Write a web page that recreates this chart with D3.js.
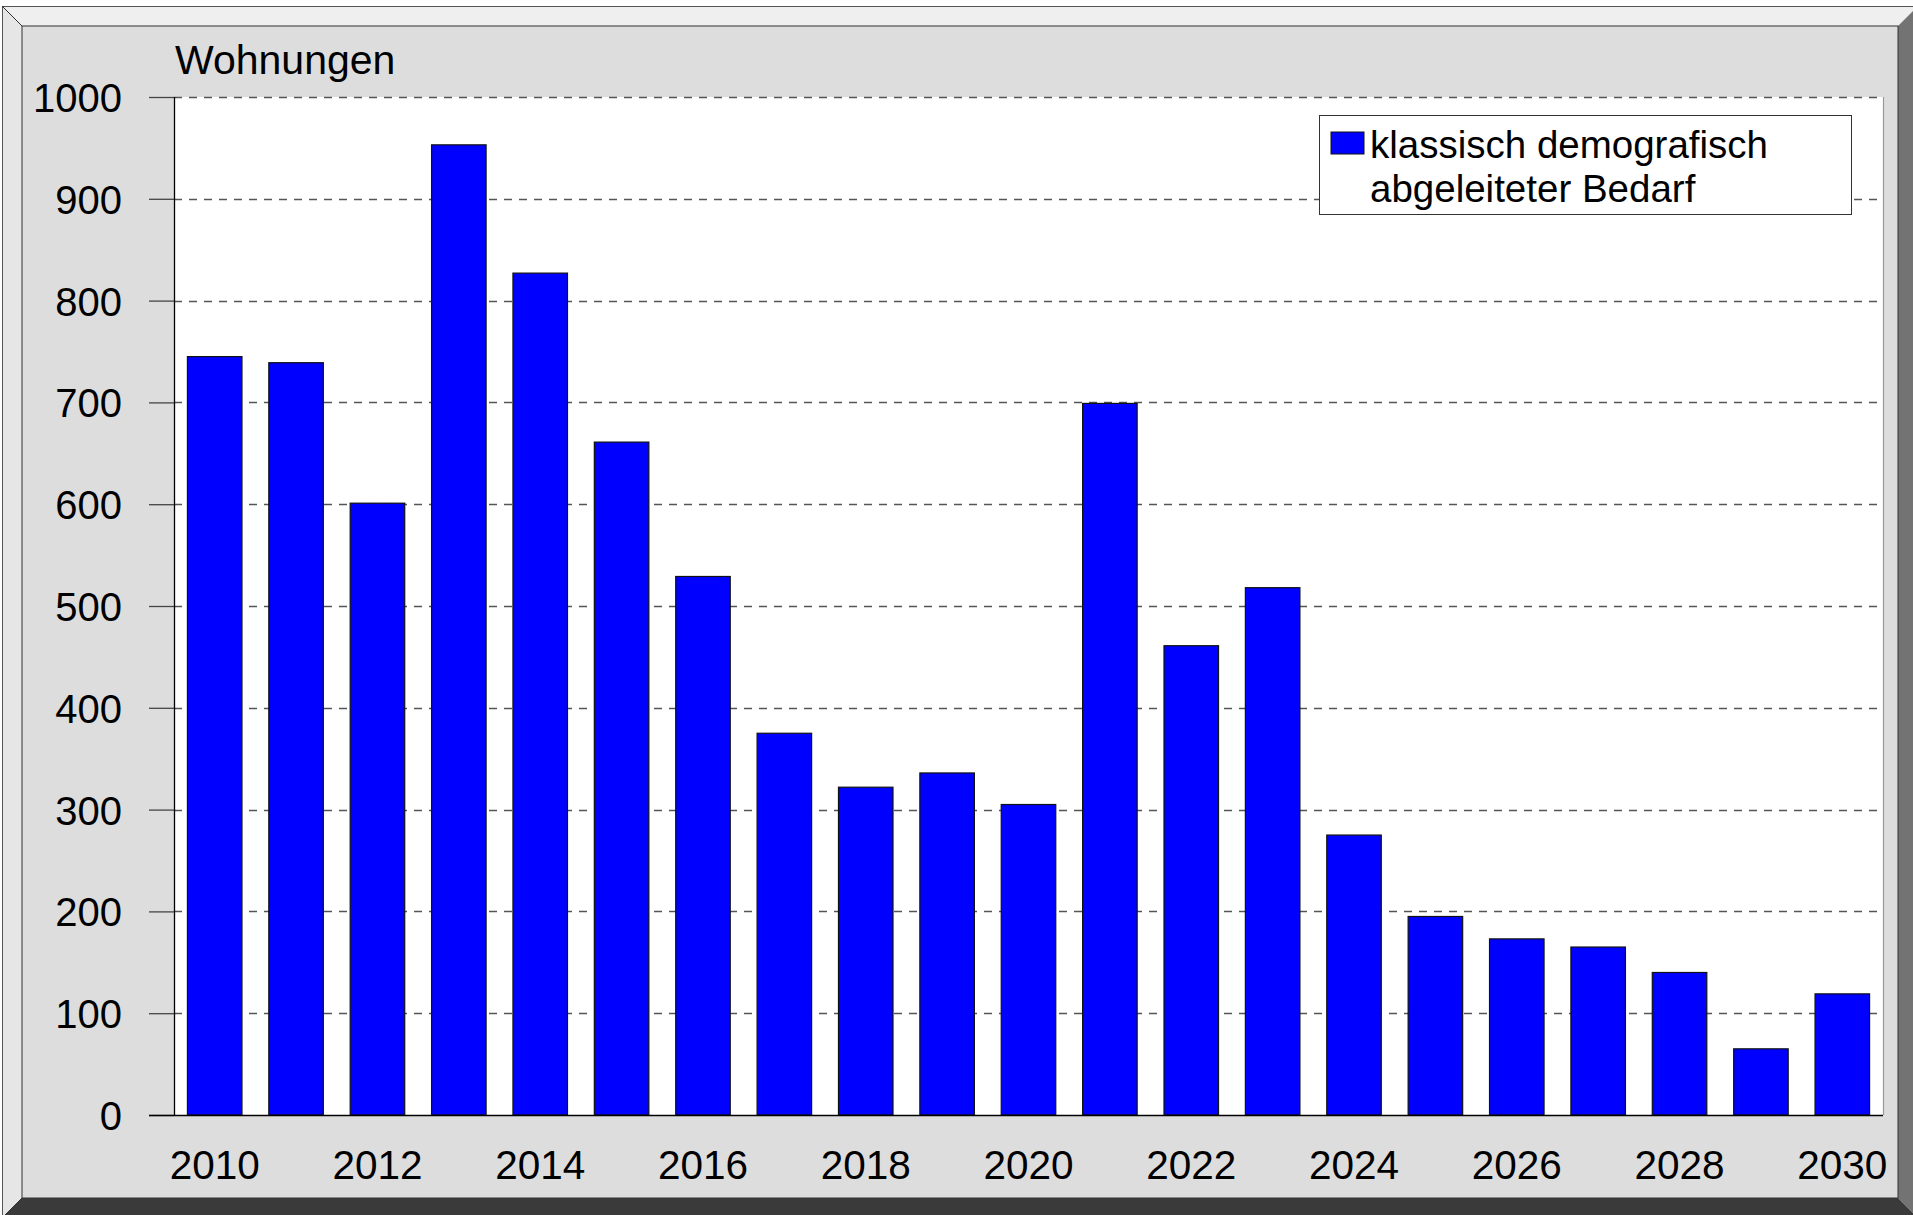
<!DOCTYPE html>
<html>
<head>
<meta charset="utf-8">
<script src="https://cdn.jsdelivr.net/npm/d3@7"></script>
<style>
html,body{margin:0;padding:0;background:#fff;}
svg{display:block;}
text{font-family:"Liberation Sans",Arial,Helvetica,sans-serif;fill:#000;}
</style>
</head>
<body>
<script>
// ---- data ----
const years = [2010,2011,2012,2013,2014,2015,2016,2017,2018,2019,2020,2021,2022,2023,2024,2025,2026,2027,2028,2029,2030];
const values = [745,739,601,953,827,661,529,375,322,336,305,699,461,518,275,195,173,165,140,65,119];
const yTicks = [0,100,200,300,400,500,600,700,800,900,1000];
const xTickLabels = [2010,2012,2014,2016,2018,2020,2022,2024,2026,2028,2030];
const seriesName = ["klassisch demografisch", "abgeleiteter Bedarf"];
const yTitle = "Wohnungen";

// ---- layout ----
const W = 1913, H = 1215;
const FONT = 40;
const plot = {left:174, right:1883, top:97, bottom:1115};

const svg = d3.select("body").append("svg").attr("width", W).attr("height", H);

// frame with bevel
const o = {x0:2, y0:6, x1:1918, y1:1218};
const b = 20;
const i = {x0:o.x0+b, y0:o.y0+b, x1:o.x1-b, y1:o.y1-b};
const poly = pts => pts.map(p => p.join(",")).join(" ");
svg.append("polygon").attr("points", poly([[o.x0,o.y0],[o.x1,o.y0],[i.x1,i.y0],[i.x0,i.y0]])).attr("fill","#efefef");
svg.append("polygon").attr("points", poly([[o.x0,o.y0],[i.x0,i.y0],[i.x0,i.y1],[o.x0,o.y1]])).attr("fill","#e6e6e6");
svg.append("polygon").attr("points", poly([[o.x1,o.y0],[o.x1,o.y1],[i.x1,i.y1],[i.x1,i.y0]])).attr("fill","#737373");
svg.append("polygon").attr("points", poly([[o.x0,o.y1],[i.x0,i.y1],[i.x1,i.y1],[o.x1,o.y1]])).attr("fill","#3a3a3a");
svg.append("rect").attr("x",o.x0+0.5).attr("y",o.y0+0.5).attr("width",o.x1-o.x0).attr("height",o.y1-o.y0)
  .attr("fill","none").attr("stroke","#555").attr("stroke-width",1);
svg.append("line").attr("x1",o.x0).attr("y1",o.y0).attr("x2",i.x0).attr("y2",i.y0).attr("stroke","#333");
svg.append("line").attr("x1",o.x0).attr("y1",o.y1).attr("x2",i.x0).attr("y2",i.y1).attr("stroke","#333");
svg.append("rect").attr("x",i.x0).attr("y",i.y0).attr("width",i.x1-i.x0).attr("height",i.y1-i.y0)
  .attr("fill","#dddddd").attr("stroke","#333").attr("stroke-width",1);

// plot background
svg.append("rect").attr("x",plot.left).attr("y",plot.top).attr("width",plot.right-plot.left).attr("height",plot.bottom-plot.top).attr("fill","#fff");

// scales
const x = d3.scaleBand().domain(years).range([plot.left, plot.right]).paddingInner(0.33).paddingOuter(0.165);
const y = d3.scaleLinear().domain([0,1000]).range([plot.bottom, plot.top]);

// gridlines (dashed inside plot)
svg.append("g").selectAll("line").data(yTicks.filter(d => d>0)).join("line")
  .attr("x1", plot.left).attr("x2", plot.right)
  .attr("y1", d => Math.round(y(d))+0.5).attr("y2", d => Math.round(y(d))+0.5)
  .attr("stroke","#555").attr("stroke-width",1.3).attr("stroke-dasharray","8,7");

// right border of plot
svg.append("line").attr("x1",plot.right+0.5).attr("x2",plot.right+0.5).attr("y1",plot.top).attr("y2",plot.bottom)
  .attr("stroke","#999").attr("stroke-width",1.2);

// bars
svg.append("g").selectAll("rect").data(years).join("rect")
  .attr("x", (d) => x(d))
  .attr("width", x.bandwidth())
  .attr("y", (d,k) => y(values[k]))
  .attr("height", (d,k) => y(0) - y(values[k]))
  .attr("fill","#0000ff").attr("stroke","#111").attr("stroke-width",1.2);

// y axis
const yAxis = d3.axisLeft(y).tickValues(yTicks).tickSize(25).tickPadding(27).tickFormat(d3.format("d"));
const gy = svg.append("g").attr("transform",`translate(${plot.left},0)`).call(yAxis);
gy.select(".domain").attr("stroke","#000").attr("stroke-width",1.3).attr("d",`M0.5,${plot.top}V${plot.bottom}`);
gy.selectAll(".tick line").attr("stroke","#444").attr("stroke-width",1.3);
gy.selectAll(".tick text").attr("font-size",FONT).attr("font-family",'"Liberation Sans",Arial,sans-serif').attr("fill","#000").attr("dy","0.36em");

// x axis
const xAxis = d3.axisBottom(x).tickValues(xTickLabels).tickSize(0).tickPadding(0);
const gx = svg.append("g").attr("transform",`translate(0,${plot.bottom})`).call(xAxis);
gx.select(".domain").remove();
gx.selectAll(".tick text").attr("font-size",FONT+0.5).attr("font-family",'"Liberation Sans",Arial,sans-serif').attr("fill","#000").attr("dy",null).attr("y",64);
// baseline line
svg.append("line").attr("x1",149).attr("x2",plot.right).attr("y1",plot.bottom+0.5).attr("y2",plot.bottom+0.5)
  .attr("stroke","#000").attr("stroke-width",1.3);

// y title
svg.append("text").attr("x",175).attr("y",74).attr("font-size",41).text(yTitle);

// legend
const lg = svg.append("g");
lg.append("rect").attr("x",1319.5).attr("y",115.5).attr("width",532).attr("height",99).attr("fill","#fff").attr("stroke","#333").attr("stroke-width",1);
lg.append("rect").attr("x",1331).attr("y",132).attr("width",33).attr("height",22).attr("fill","#0000ff").attr("stroke","#111").attr("stroke-width",1);
lg.selectAll("text.lt").data(seriesName).join("text").attr("class","lt")
  .attr("x",1370).attr("y",(d,k)=>158+k*44).attr("font-size",38.5).text(d=>d);
</script>
</body>
</html>
